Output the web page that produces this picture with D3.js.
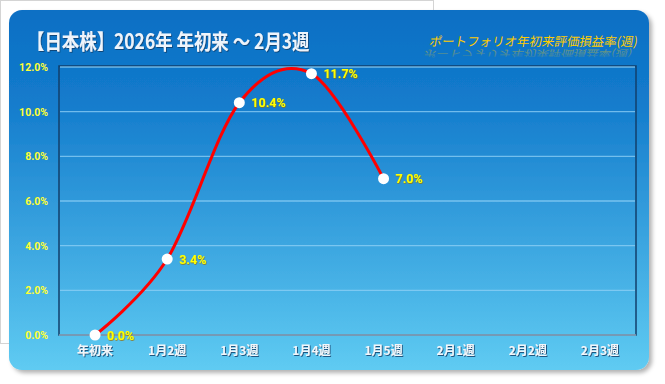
<!DOCTYPE html>
<html>
<head>
<meta charset="utf-8">
<script src="https://cdn.jsdelivr.net/npm/d3@7"></script>
<style>
  body { margin: 0; background: #fff; }
  svg { display: block; font-family: "Noto Sans CJK JP", "Noto Sans", sans-serif; }
</style>
</head>
<body>
<svg id="chart"></svg>
<script>
// chart data
const weeks = ["年初来", "1月2週", "1月3週", "1月4週", "1月5週", "2月1週", "2月2週", "2月3週"];
const returns = [0.0, 3.4, 10.4, 11.7, 7.0];
const yTicks = [0, 2, 4, 6, 8, 10, 12];
const titleText = "【日本株】2026年 年初来 ～ 2月3週";
const subtitleText = "ポートフォリオ年初来評価損益率(週)";

window.onload = () => {
    let width = 665, height = 384;
    let svg = d3.select("#chart").attr("width", width).attr("height", height);
    let defs = svg.append("defs");

    let bg = defs.append("linearGradient").attr("id", "bg")
        .attr("x1", 0).attr("y1", 0).attr("x2", 0).attr("y2", 1);
    bg.append("stop").attr("offset", "0%").attr("stop-color", "#0b6fc4");
    bg.append("stop").attr("offset", "25%").attr("stop-color", "#137bcc");
    bg.append("stop").attr("offset", "100%").attr("stop-color", "#5fcbf2");

    let fade = defs.append("linearGradient").attr("id", "fade")
        .attr("x1", 0).attr("y1", 0).attr("x2", 0).attr("y2", 1);
    fade.append("stop").attr("offset", "0%").attr("stop-color", "#ffcc00").attr("stop-opacity", 0.05);
    fade.append("stop").attr("offset", "100%").attr("stop-color", "#ffcc00").attr("stop-opacity", 0.5);

    let shadow = defs.append("filter").attr("id", "shadow")
        .attr("x", "-5%").attr("y", "-5%").attr("width", "110%").attr("height", "115%");
    shadow.append("feDropShadow").attr("dx", 3).attr("dy", 3)
        .attr("stdDeviation", 2).attr("flood-color", "#000").attr("flood-opacity", 0.3);

    let txtShadow = defs.append("filter").attr("id", "txtShadow");
    txtShadow.append("feDropShadow").attr("dx", 1).attr("dy", 1)
        .attr("stdDeviation", 0.6).attr("flood-color", "#0a3a66").attr("flood-opacity", 0.8);

    let glow = defs.append("filter").attr("id", "glow");
    glow.append("feDropShadow").attr("dx", 0.5).attr("dy", 0.8)
        .attr("stdDeviation", 0.7).attr("flood-color", "#9a7000").attr("flood-opacity", 0.9);

    // faint frame behind
    svg.append("rect")
        .attr("x", 0.5).attr("y", 0.5).attr("width", 433).attr("height", 343)
        .attr("fill", "none").attr("stroke", "#d4d4d4");

    // card
    svg.append("rect")
        .attr("x", 9).attr("y", 10).attr("width", 640).attr("height", 360)
        .attr("rx", 13)
        .attr("fill", "url(#bg)")
        .attr("filter", "url(#shadow)");

    // title (narrow font look)
    svg.append("text")
        .attr("transform", "translate(27,49) scale(0.83,1)")
        .attr("fill", "#eef4fb")
        .attr("font-size", 21).attr("font-weight", "bold")
        .attr("filter", "url(#txtShadow)")
        .text(titleText);

    // subtitle with reflection
    svg.append("text")
        .attr("transform", "translate(637,46) skewX(-10)")
        .attr("text-anchor", "end")
        .attr("fill", "#ffcc00")
        .attr("font-size", 12.5)
        .text(subtitleText);
    svg.append("text")
        .attr("transform", "translate(633,50) scale(1,-0.7) skewX(10)")
        .attr("text-anchor", "end")
        .attr("fill", "url(#fade)")
        .attr("font-size", 12.5)
        .text(subtitleText);

    let margin = { left: 59, right: 636, top: 67, bottom: 335 };

    let x = d3.scaleBand()
        .domain(weeks)
        .range([margin.left, margin.right]);

    let y = d3.scaleLinear()
        .domain([0, 12])
        .range([margin.bottom, margin.top]);

    // plot area
    svg.append("rect")
        .attr("x", margin.left).attr("y", margin.top - 1)
        .attr("width", margin.right - margin.left)
        .attr("height", margin.bottom - margin.top + 1)
        .attr("fill", "none")
        .attr("stroke", "#123f6b").attr("stroke-width", 1.5);

    // grid
    svg.append("g")
        .selectAll("line")
        .data(yTicks.filter(d => d > 0))
        .enter()
        .append("line")
            .attr("x1", margin.left + 1).attr("x2", margin.right - 1)
            .attr("y1", d => y(d)).attr("y2", d => y(d))
            .attr("stroke", "#8fd0f5").attr("stroke-opacity", 0.75).attr("stroke-width", 1.3);

    // zero line
    svg.append("line")
        .attr("x1", margin.left).attr("x2", margin.right)
        .attr("y1", y(0)).attr("y2", y(0))
        .attr("stroke", "#c8d4de").attr("stroke-width", 1.2);

    // y axis labels
    let yAxis = d3.axisLeft(y).tickValues(yTicks).tickSize(0).tickPadding(0)
        .tickFormat(d => d.toFixed(1) + "%");
    let yg = svg.append("g")
        .attr("transform", "translate(48,0)")
        .call(yAxis);
    yg.select(".domain").remove();
    yg.selectAll("text")
        .attr("fill", "#ffff33")
        .attr("font-size", 10.5).attr("font-weight", "bold")
        .attr("font-family", "Roboto, sans-serif");

    // x axis labels
    let xAxis = d3.axisBottom(x).tickSize(0).tickPadding(0);
    let xg = svg.append("g")
        .attr("transform", "translate(0,346)")
        .call(xAxis);
    xg.select(".domain").remove();
    xg.selectAll("text")
        .attr("fill", "#f2f6fa")
        .attr("font-size", 12)
        .attr("font-weight", "bold")
        .attr("font-family", "\"Noto Sans CJK JP\", sans-serif")
        .attr("filter", "url(#txtShadow)");

    let points = returns.map((v, i) => ({ name: weeks[i], value: v }));

    let line = d3.line()
        .x(d => x(d.name) + x.bandwidth() / 2)
        .y(d => y(d.value))
        .curve(d3.curveCardinal.tension(0));

    svg.append("path")
        .datum(points)
        .attr("d", line)
        .attr("fill", "none")
        .attr("stroke", "#ff0000")
        .attr("stroke-width", 3);

    svg.append("g")
        .selectAll("circle")
        .data(points)
        .enter()
        .append("circle")
            .attr("cx", d => x(d.name) + x.bandwidth() / 2)
            .attr("cy", d => y(d.value))
            .attr("r", 5.5)
            .attr("fill", "#fff");

    svg.append("g")
        .selectAll("text")
        .data(points)
        .enter()
        .append("text")
            .attr("x", d => x(d.name) + x.bandwidth() / 2 + 12)
            .attr("y", d => y(d.value) + 4.5)
            .attr("fill", "#ffff00")
            .attr("font-size", 12.5).attr("font-weight", "bold")
            .attr("font-family", "Roboto, sans-serif")
            .attr("filter", "url(#glow)")
            .text(d => d.value.toFixed(1) + "%");
}
</script>
</body>
</html>
